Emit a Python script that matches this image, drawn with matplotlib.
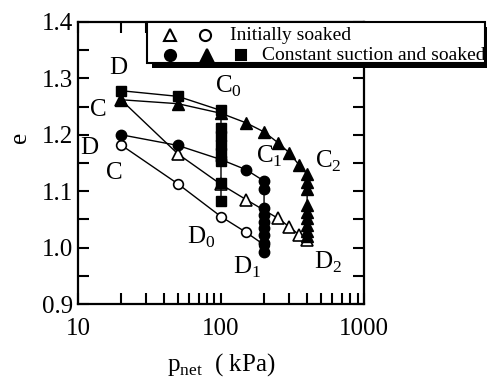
import matplotlib.pyplot as plt
from matplotlib.lines import Line2D
from matplotlib.patches import Rectangle
from matplotlib.ticker import MultipleLocator, FixedLocator, NullFormatter

plt.rcParams['font.family'] = ['Liberation Serif', 'DejaVu Serif']
plt.rcParams['mathtext.fontset'] = 'custom'
plt.rcParams['mathtext.rm'] = 'Liberation Serif'

# constant suction, soaked at 100 kPa (filled squares)
sq_p = [20, 50, 100, 100, 100, 100, 100, 100, 100, 100]
sq_e = [1.278, 1.268, 1.243, 1.212, 1.197, 1.182, 1.168, 1.153, 1.114, 1.082]

# constant suction, soaked at 400 kPa (filled triangles)
tri_p = [20, 50, 100, 150, 200, 250, 300, 350, 400, 400, 400, 400, 400, 400, 400, 400, 400]
tri_e = [1.262, 1.255, 1.238, 1.221, 1.205, 1.186, 1.168, 1.147, 1.130,
         1.117, 1.103, 1.076, 1.064, 1.053, 1.041, 1.029, 1.020]

# constant suction, soaked at 200 kPa (filled circles)
cir_p = [20, 50, 100, 150, 200, 200, 200, 200, 200, 200, 200, 200, 200]
cir_e = [1.200, 1.181, 1.156, 1.138, 1.118, 1.103, 1.070, 1.058, 1.046,
         1.034, 1.022, 1.008, 0.992]

# initially soaked (open circles)
ocir_p = [20, 50, 100, 150, 200]
ocir_e = [1.182, 1.113, 1.055, 1.027, 1.005]

# initially soaked (open triangles)
otri_p = [20, 50, 100, 150, 250, 300, 350, 400]
otri_e = [1.262, 1.166, 1.112, 1.085, 1.052, 1.037, 1.023, 1.014]

fig = plt.figure(figsize=(4.9, 3.83), dpi=100)
ax = fig.add_axes([0.159, 0.206, 0.584, 0.737])

lw = 1.0
ax.plot(ocir_p, ocir_e, 'k-', lw=lw, marker='o', ms=7, mfc='white', mec='black', mew=1.2, zorder=3)
ax.plot(otri_p, otri_e, 'k-', lw=lw, marker='^', ms=9, mfc='white', mec='black', mew=1.2, zorder=3)
ax.plot(cir_p, cir_e, 'k-', lw=lw, marker='o', ms=7.5, color='black', zorder=4)
ax.plot(tri_p, tri_e, 'k-', lw=lw, marker='^', ms=9, color='black', zorder=4)
ax.plot(sq_p, sq_e, 'k-', lw=lw, marker='s', ms=7.5, color='black', zorder=5)

ax.set_xscale('log')
ax.set_xlim(10, 1000)
ax.set_ylim(0.9, 1.4)
ax.xaxis.set_major_locator(FixedLocator([10, 100, 1000]))
ax.xaxis.set_major_formatter(plt.FixedFormatter(['10', '100', '1000']))
ax.xaxis.set_minor_locator(FixedLocator([m * d for d in (10, 100) for m in range(2, 10)]))
ax.xaxis.set_minor_formatter(NullFormatter())
ax.yaxis.set_major_locator(MultipleLocator(0.1))
ax.yaxis.set_minor_locator(MultipleLocator(0.05))
ax.yaxis.set_major_formatter(plt.FormatStrFormatter('%.1f'))

ax.tick_params(which='both', direction='in', top=True, right=True, width=1.5, labelsize=18)
ax.tick_params(which='major', length=8)
ax.tick_params(which='minor', length=8)
ax.tick_params(axis='x', pad=10)
for s in ax.spines.values():
    s.set_linewidth(1.6)

ax.set_xlabel(r'p$_\mathregular{net}$  ( kPa)', fontsize=18, labelpad=8)
ax.set_ylabel('e', fontsize=18)
ax.yaxis.set_label_coords(-0.165, 0.59)

fs = 18
ax.text(19, 1.319, 'D', fontsize=fs, ha='center', va='center')
ax.text(13.8, 1.244, 'C', fontsize=fs, ha='center', va='center')
ax.text(12.1, 1.177, 'D', fontsize=fs, ha='center', va='center')
ax.text(18.1, 1.133, 'C', fontsize=fs, ha='center', va='center')
ax.text(112, 1.286, r'C$_\mathregular{0}$', fontsize=fs, ha='center', va='center')
ax.text(218, 1.161, r'C$_\mathregular{1}$', fontsize=fs, ha='center', va='center')
ax.text(560, 1.152, r'C$_\mathregular{2}$', fontsize=fs, ha='center', va='center')
ax.text(73, 1.018, r'D$_\mathregular{0}$', fontsize=fs, ha='center', va='center')
ax.text(152, 0.965, r'D$_\mathregular{1}$', fontsize=fs, ha='center', va='center')
ax.text(560, 0.973, r'D$_\mathregular{2}$', fontsize=fs, ha='center', va='center')

# legend box drawn by hand (it sticks out past the axes)
W, H = 490.0, 383.0
def fx(px):
    return px / W
def fy(py):
    return 1 - py / H

fig.add_artist(Rectangle((fx(152), fy(68)), fx(487) - fx(152), fy(27) - fy(68),
                         transform=fig.transFigure, facecolor='black', edgecolor='none', zorder=9))
fig.add_artist(Rectangle((fx(147), fy(63)), fx(485) - fx(147), fy(22) - fy(63),
                         transform=fig.transFigure, facecolor='white', edgecolor='black',
                         lw=1.5, zorder=10))

leg = [
    (170, 35, '^', 'white'), (205, 35, 'o', 'white'),
    (170, 55, 'o', 'black'), (207, 55, '^', 'black'), (241, 55, 's', 'black'),
]
for px, py, m, fc in leg:
    fig.add_artist(Line2D([fx(px)], [fy(py)], transform=fig.transFigure, marker=m,
                          ms=8 if m != 's' else 7, mfc=fc, mec='black', mew=1.5,
                          ls='none', zorder=11))
fig.text(fx(230), fy(35), 'Initially soaked', fontsize=14, va='center', ha='left', zorder=11)
fig.text(fx(262), fy(55), 'Constant suction and soaked', fontsize=14, va='center', ha='left', zorder=11)

fig.savefig('out.png', dpi=100)
